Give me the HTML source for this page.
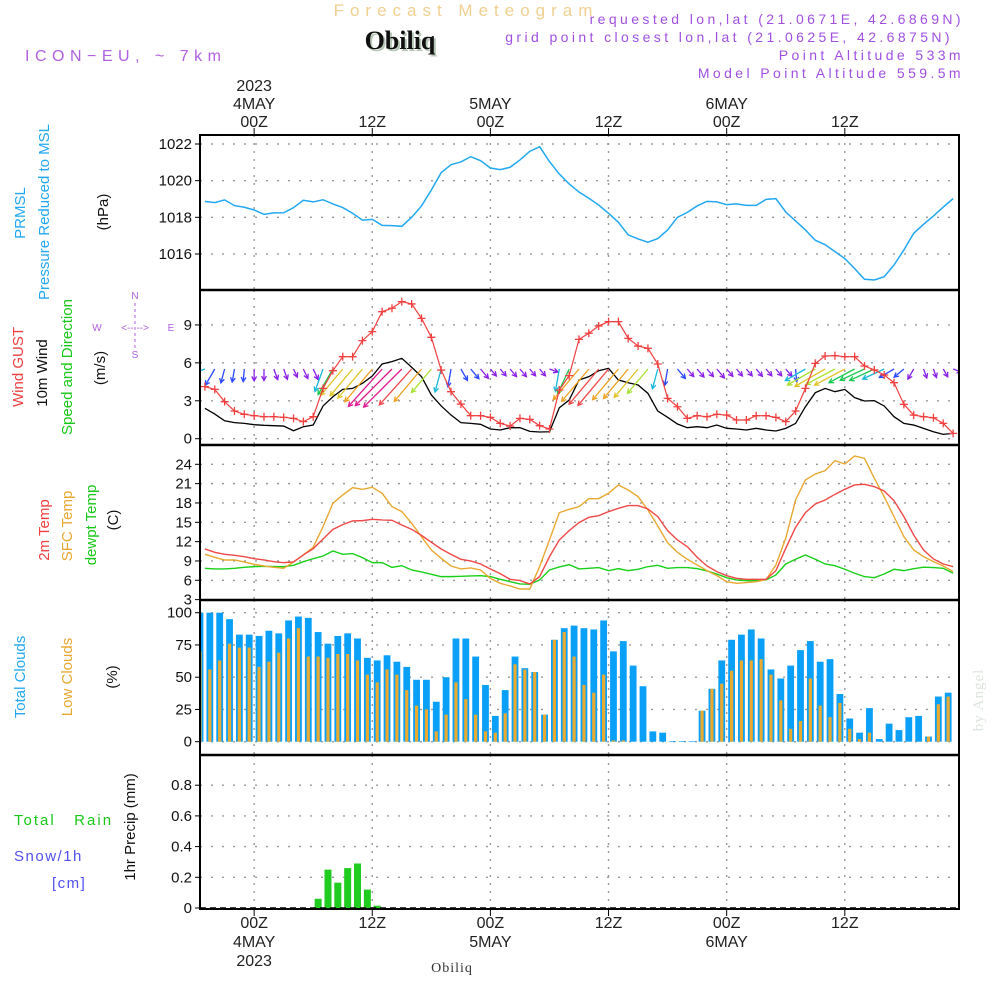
<!DOCTYPE html>
<html><head><meta charset="utf-8"><style>
html,body{margin:0;padding:0;background:#fff;}
svg{display:block;}
text{font-family:"Liberation Sans",sans-serif;}
</style></head><body>
<svg id="chart" width="1000" height="1000" viewBox="0 0 1000 1000" xmlns="http://www.w3.org/2000/svg">
<rect x="0" y="0" width="1000" height="1000" fill="#fff"/>
<g id="header">
<text x="466" y="16" font-size="17" fill="#f0d090" text-anchor="middle" letter-spacing="6">Forecast Meteogram</text>
<text x="402" y="51" font-size="26" font-weight="bold" fill="#b8c8b8" text-anchor="middle" style="font-family:'Liberation Serif',serif">Obiliq</text>
<text x="400" y="49" font-size="26" font-weight="bold" fill="#111" text-anchor="middle" style="font-family:'Liberation Serif',serif">Obiliq</text>
<text x="25" y="61" font-size="16" fill="#b060e0" letter-spacing="5.5">ICON−EU, ~ 7km</text>
<text x="964" y="24" font-size="14" fill="#a050e0" text-anchor="end" letter-spacing="3.4">requested lon,lat (21.0671E, 42.6869N)</text>
<text x="953" y="42" font-size="14" fill="#a050e0" text-anchor="end" letter-spacing="3.4">grid point closest lon,lat (21.0625E, 42.6875N)</text>
<text x="964" y="60" font-size="14" fill="#a050e0" text-anchor="end" letter-spacing="3.4">Point Altitude 533m</text>
<text x="964" y="78" font-size="14" fill="#a050e0" text-anchor="end" letter-spacing="3.4">Model Point Altitude 559.5m</text>
<text x="452" y="972" font-size="14" fill="#333" text-anchor="middle" style="font-family:'Liberation Serif',serif" letter-spacing="1">Obiliq</text>
<text transform="translate(983,700) rotate(-90)" font-size="15" fill="#dde4dd" text-anchor="middle" style="font-family:'Liberation Serif',serif" letter-spacing="1">by Angel</text>
</g>
<g id="labels"></g>
<g id="plot"></g>
</svg>
<script>
// ---------- DATA ----------
const lineHours = [-5,-4,-3,-2,-1,0,1,2,3,4,5,6,7,8,9,10,11,12,13,14,15,16,17,18,19,20,21,22,23,24,25,26,27,28,29,30,31,32,33,34,35,36,37,38,39,40,41,42,43,44,45,46,47,48,49,50,51,52,53,54,55,56,57,58,59,60,61,62,63,64,65,66,67,68,69,70,71];
const pressure = [1018.87,1018.80,1018.95,1018.64,1018.55,1018.40,1018.16,1018.24,1018.25,1018.53,1018.93,1018.84,1018.96,1018.73,1018.53,1018.22,1017.85,1017.89,1017.56,1017.55,1017.51,1018.00,1018.62,1019.49,1020.44,1020.87,1021.02,1021.31,1021.09,1020.69,1020.60,1020.73,1021.13,1021.60,1021.85,1021.04,1020.36,1019.82,1019.38,1019.04,1018.67,1018.22,1017.73,1017.04,1016.82,1016.64,1016.84,1017.31,1018.0,1018.27,1018.62,1018.87,1018.84,1018.69,1018.73,1018.65,1018.65,1018.98,1019.02,1018.29,1017.8,1017.31,1016.75,1016.51,1016.13,1015.75,1015.2,1014.62,1014.58,1014.76,1015.4,1016.22,1017.13,1017.62,1018.07,1018.56,1019.02];
const windGust = [4.12,3.90,2.93,2.19,1.93,1.82,1.74,1.74,1.69,1.61,1.35,1.74,3.98,5.38,6.49,6.49,7.76,8.47,10.05,10.32,10.84,10.66,9.52,8.02,5.43,3.72,2.74,1.82,1.82,1.69,1.21,1.0,1.61,1.53,1.03,0.77,3.85,4.99,7.86,8.34,8.92,9.26,9.26,7.94,7.33,7.15,5.91,3.19,2.53,1.61,1.82,1.74,1.93,1.87,1.48,1.48,1.82,1.82,1.69,1.35,2.19,3.98,5.96,6.54,6.57,6.49,6.49,5.75,5.44,5.04,4.43,2.72,1.87,1.74,1.66,1.21,0.42];
const wind10m = [2.40,1.95,1.42,1.27,1.21,1.11,1.06,1.03,1.0,0.63,0.95,1.08,2.59,3.32,3.90,3.98,4.38,4.96,5.91,6.10,6.36,5.65,4.91,3.46,2.59,1.87,1.27,1.21,1.14,0.77,0.69,0.87,0.87,0.58,0.53,0.55,2.45,3.06,4.64,4.91,5.38,5.57,4.64,4.43,4.25,3.59,2.19,1.69,1.16,0.87,0.95,0.87,1.08,0.82,0.77,0.69,0.82,0.69,0.61,0.82,1.21,2.53,3.64,3.98,3.72,3.90,3.25,2.98,3.01,2.59,1.74,1.21,1.08,0.82,0.55,0.34,0.42];
const windDir = [70,30,15,10,5,0,0,340,340,335,335,335,20,30,40,40,40,40,42,45,45,42,40,40,15,10,330,320,320,320,320,320,320,320,320,290,10,25,40,40,40,40,40,40,40,40,15,10,320,320,320,320,320,320,320,320,320,320,320,320,355,60,60,60,62,62,62,65,65,65,60,50,30,340,340,330,290];
const temp2m = [10.86,10.34,10.03,9.88,9.67,9.36,9.15,8.89,8.74,8.84,9.93,10.91,12.41,13.91,14.64,15.21,15.26,15.46,15.36,15.31,14.58,13.91,12.97,11.89,10.86,10.03,9.26,9.0,8.53,7.76,7.03,6.15,5.95,5.43,6.57,9.67,12.26,13.71,14.95,15.77,16.03,16.65,17.17,17.59,17.59,17.07,15.88,13.71,12.26,11.22,9.57,8.22,7.34,6.72,6.31,6.15,6.15,6.15,7.50,10.96,14.22,16.50,17.84,18.46,19.34,20.12,20.79,20.90,20.53,19.86,18.36,15.88,13.03,10.70,9.31,8.53,8.12];
const tempSfc = [10.03,9.57,9.15,9.15,8.84,8.48,8.22,8.01,7.86,8.84,9.93,11.12,14.33,17.95,19.24,20.38,20.12,20.43,19.50,17.43,16.66,14.84,12.77,10.70,9.41,8.22,7.76,7.91,7.60,6.30,5.53,5.12,4.65,4.65,8.12,12.26,16.50,17.02,17.43,18.67,18.67,19.5,20.79,20.02,18.98,16.91,14.43,11.84,10.34,9.26,8.38,7.50,6.72,5.79,5.53,5.64,5.79,6.10,8.38,12.52,18.46,21.57,22.50,23.02,24.57,24.05,25.29,24.93,21.83,18.98,15.88,12.77,10.70,9.67,8.89,8.22,7.34];
const tempDew = [7.86,7.76,7.76,7.86,8.01,8.12,8.17,8.12,8.12,8.33,8.89,9.36,9.77,10.55,10.03,10.14,9.52,8.74,8.74,8.01,8.27,7.60,7.29,6.93,6.57,6.57,6.62,6.67,6.72,6.57,6.15,5.79,5.43,5.38,6.05,7.60,8.07,8.43,7.76,7.86,7.97,7.50,7.81,7.50,7.71,8.12,8.33,7.86,7.97,7.97,7.81,7.45,6.98,6.41,6.05,5.95,5.95,6.05,6.83,8.53,9.26,9.93,9.26,8.53,8.27,7.71,7.09,6.57,6.41,6.98,7.71,7.50,7.81,8.03,7.97,7.86,7.09];
const barHours = [-5.5,-4.5,-3.5,-2.5,-1.5,-0.5,0.5,1.5,2.5,3.5,4.5,5.5,6.5,7.5,8.5,9.5,10.5,11.5,12.5,13.5,14.5,15.5,16.5,17.5,18.5,19.5,20.5,21.5,22.5,23.5,24.5,25.5,26.5,27.5,28.5,29.5,30.5,31.5,32.5,33.5,34.5,35.5,36.5,37.5,38.5,39.5,40.5,41.5,42.5,43.5,44.5,45.5,46.5,47.5,48.5,49.5,50.5,51.5,52.5,53.5,54.5,55.5,56.5,57.5,58.5,59.5,60.5,61.5,62.5,63.5,64.5,65.5,66.5,67.5,68.5,69.5,70.5];
const totalClouds = [100,100,100,95,83,83,82,86,84,94,97,96,85,76,82,84,80,65,63,67,62,58,48,48,31,50,80,80,66,44,20,40,66,57,54,21,79,88,90,88,87,94,70,78,59,43,8,7,0.5,0.5,0.5,24,41,63,79,83,87,80,56,49,59,71,78,62,64,37,18,7,26,2,14,9,19,20,4,35,38];
const lowClouds = [70,56,63,76,73,73,58,62,69,80,88,66,66,65,68,68,63,52,46,56,52,40,28,25,8,21,46,33,21,8,7,22,60,56,54,21,79,85,66,44,38,52,1,1,0,0,0,0,0,0,0,24,41,45,55,63,63,64,52,32,10,16,49,28,19,30,10,2,7,0,0,0,0,0,4,29,35];
const precip = [0,0,0,0,0,0,0,0,0,0,0,0,0.06,0.25,0.165,0.26,0.29,0.12,0.015,0,0,0,0,0,0,0,0,0,0,0,0,0,0,0,0,0,0,0,0,0,0,0,0,0,0,0,0,0,0,0,0,0,0,0,0,0,0,0,0,0,0,0,0,0,0,0,0,0,0,0,0,0,0,0,0,0,0];
const pressureTicks = [1016,1018,1020,1022];
const windTicks = [0,3,6,9];
const tempTicks = [3,6,9,12,15,18,21,24];
const cloudTicks = [0,25,50,75,100];
const precipTicks = [0,0.2,0.4,0.6,0.8];
const timeTicks = [0,12,24,36,48,60];
const timeLabels = ["00Z","12Z","00Z","12Z","00Z","12Z"];
const dayLabels = ["4MAY","","5MAY","","6MAY",""];

// ---------- SCALES ----------
const X0=200, X1=959, H0=-5.5, H1=71.6;
function xs(h){ return X0 + (h-H0)*(X1-X0)/(H1-H0); }
function yP(p){ return 144 + (1022-p)*18.33; }
function yW(v){ return 438.7 - v*12.64; }
function yT(t){ return 464.3 + (24-t)*6.444; }
function yC(c){ return 741.7 - c*1.29; }
function yR(r){ return 908 - r*153.5; }

const NS="http://www.w3.org/2000/svg";
function mk(tag, attrs, parent){
  const e=document.createElementNS(NS,tag);
  for(const k in attrs) e.setAttribute(k, attrs[k]);
  parent.appendChild(e); return e;
}
const svg=document.getElementById('chart');
const plot=document.getElementById('plot');
const labels=document.getElementById('labels');

const panels=[{top:135,bot:290,ys:yP,ticks:pressureTicks,fmt:v=>String(v),name:'pressure'},
 {top:290,bot:445,ys:yW,ticks:windTicks,fmt:v=>String(v),name:'wind'},
 {top:445,bot:600,ys:yT,ticks:tempTicks,fmt:v=>String(v),name:'temperature'},
 {top:600,bot:755,ys:yC,ticks:cloudTicks,fmt:v=>String(v),name:'clouds'},
 {top:755,bot:909,ys:yR,ticks:precipTicks,fmt:v=>v===0?'0':v.toFixed(1),name:'precip'}];

const defs=mk('defs',{},svg);
panels.forEach((p,i)=>{
  const cp=mk('clipPath',{id:'clip'+i},defs);
  mk('rect',{x:X0,y:p.top,width:X1-X0,height:p.bot-p.top},cp);
});

panels.forEach((p,i)=>{
  const g=mk('g',{},plot);
  
  
  p.ticks.forEach(v=>{
    const y=p.ys(v);
    if(y>p.top+3 && y<p.bot-3) mk('line',{x1:X0,x2:X1,y1:y,y2:y,stroke:'#999','stroke-width':1.4,'stroke-dasharray':'2,9'},g);
    if(y>=p.top-1 && y<=p.bot+1) mk('line',{x1:X0-5,x2:X0,y1:y,y2:y,stroke:'#000','stroke-width':1},g);
    const t=mk('text',{x:X0-8,y:y+5,'font-size':15,'text-anchor':'end',fill:'#111'},g);
    
    
    t.textContent=p.fmt(v);
  });
  timeTicks.forEach(h=>{
    mk('line',{x1:xs(h),x2:xs(h),y1:p.top,y2:p.bot,stroke:'#999','stroke-width':1.4,'stroke-dasharray':'2,6'},g);
  });
});

(function(){
  const g=mk('g',{'clip-path':'url(#clip0)'},plot);
  const pts=lineHours.map((h,i)=>xs(h)+','+yP(pressure[i])).join(' ');
  const l=mk('polyline',{points:pts,fill:'none',stroke:'#22a8f0','stroke-width':1.5},g);
  
  
})();

function speedColor(s){
  if(s<1.15) return '#8a1fe8';
  if(s<2.0) return '#2a48ff';
  if(s<2.7) return '#18b8d8';
  if(s<3.4) return '#18c850';
  if(s<3.9) return '#a8e030';
  if(s<4.4) return '#e0c428';
  if(s<5.0) return '#f0a020';
  if(s<5.8) return '#f04848';
  return '#e01890';
}
(function(){
  const g=mk('g',{'clip-path':'url(#clip1)'},plot);
  const bl=mk('polyline',{points:lineHours.map((h,i)=>xs(h)+','+yW(wind10m[i])).join(' '),fill:'none',stroke:'#000','stroke-width':1.3},g);
  
  
  lineHours.forEach((h,i)=>{
    const s=wind10m[i], d=windDir[i]*Math.PI/180;
    const L=Math.max(9, 8*s+3);
    const x=xs(h), y=369;
    const dx=-Math.sin(d)*L, dy=Math.cos(d)*L;
    const hx=x+dx, hy=y+dy;
    const ang=Math.atan2(dy,dx);
    const c=speedColor(s);
    const a=mk('g',{stroke:c,'stroke-width':1.3,fill:'none'},g);
    
    
    mk('line',{x1:x,y1:y,x2:hx,y2:hy},a);
    const hl=5;
    mk('polyline',{points:(hx-hl*Math.cos(ang-0.5))+','+(hy-hl*Math.sin(ang-0.5))+' '+hx+','+hy+' '+(hx-hl*Math.cos(ang+0.5))+','+(hy-hl*Math.sin(ang+0.5))},a);
  });
  const gl=mk('polyline',{points:lineHours.map((h,i)=>xs(h)+','+yW(windGust[i])).join(' '),fill:'none',stroke:'#f04040','stroke-width':1.2},g);
  
  
  lineHours.forEach((h,i)=>{
    const x=xs(h), y=yW(windGust[i]);
    const m=mk('path',{d:`M${x-4},${y}H${x+4}M${x},${y-4}V${y+4}`,stroke:'#f04040','stroke-width':1.3},g);
    
    
  });
})();

(function(){
  const g=mk('g',{'clip-path':'url(#clip2)'},plot);
  [[tempDew,'#18d018','dewpoint-line'],[tempSfc,'#e8a830','sfc-temp-line'],[temp2m,'#f04848','temp-2m-line']].forEach(([arr,c,n])=>{
    const l=mk('polyline',{points:lineHours.map((h,i)=>xs(h)+','+yT(arr[i])).join(' '),fill:'none',stroke:c,'stroke-width':1.4},g);
    
    
  });
})();

(function(){
  const g=mk('g',{'clip-path':'url(#clip3)'},plot);
  barHours.forEach((h,i)=>{
    const x=xs(h);
    const b=mk('rect',{x:x-3.4,y:yC(totalClouds[i]),width:6.8,height:yC(0)-yC(totalClouds[i]),fill:'#0aa0f8'},g);
    
    
    if(lowClouds[i]>0){
      const o=mk('rect',{x:x-1.6,y:yC(lowClouds[i]),width:3.2,height:yC(0)-yC(lowClouds[i]),fill:'#e8aa30'},g);
      
      
    }
  });
})();

(function(){
  const g=mk('g',{'clip-path':'url(#clip4)'},plot);
  barHours.forEach((h,i)=>{
    if(precip[i]<=0) return;
    const x=xs(h);
    const b=mk('rect',{x:x-3.5,y:yR(precip[i]),width:7,height:yR(0)-yR(precip[i]),fill:'#20cc20'},g);
    
    
  });
  mk('line',{x1:X0,x2:X1,y1:908,y2:908,stroke:'#000','stroke-width':1.5,'stroke-dasharray':'6,4'},g);
})();

(function(){
  const g=mk('g',{fill:'none',stroke:'#000','stroke-width':2},plot);
  
  
  mk('rect',{x:X0,y:135,width:X1-X0,height:909-135},g);
  [290,445,600,755].forEach(y=>mk('line',{x1:X0,x2:X1,y1:y,y2:y,'stroke-width':2.5},g));
  timeTicks.forEach(h=>{
    mk('line',{x1:xs(h),x2:xs(h),y1:128,y2:135,'stroke-width':1},g);
    mk('line',{x1:xs(h),x2:xs(h),y1:909,y2:916,'stroke-width':1},g);
  });
})();

(function(){
  const g=mk('g',{'font-size':16,fill:'#222','text-anchor':'middle'},plot);
  
  
  timeTicks.forEach((h,i)=>{
    const x=xs(h);
    const t1=mk('text',{x:x,y:127},g); t1.textContent=timeLabels[i];
     
    const t2=mk('text',{x:x,y:928},g); t2.textContent=timeLabels[i];
     
    if(dayLabels[i]){
      const d1=mk('text',{x:x,y:109},g); d1.textContent=dayLabels[i];
       
      const d2=mk('text',{x:x,y:947},g); d2.textContent=dayLabels[i];
       
    }
  });
  const y1=mk('text',{x:xs(0),y:91},g); y1.textContent='2023';
   
  const y2=mk('text',{x:xs(0),y:966},g); y2.textContent='2023';
   
})();

const vlabels=[
 ['PRMSL',20,213,'#22a8f0','prmsl-title'],
 ['Pressure Reduced to MSL',44,212,'#22a8f0','pressure-title'],
 ['(hPa)',103,212,'#111','pressure-unit'],
 ['Wind GUST',18,367,'#f04040','gust-title'],
 ['10m Wind',42,373,'#111','wind-title'],
 ['Speed and Direction',67,367,'#18c818','direction-title'],
 ['(m/s)',100,368,'#111','wind-unit'],
 ['2m Temp',44,530,'#f04040','temp-2m-title'],
 ['SFC Temp',67,526,'#e8a830','sfc-temp-title'],
 ['dewpt Temp',91,525,'#18c818','dewpoint-title'],
 ['(C)',113,520,'#111','temp-unit'],
 ['Total Clouds',20,677,'#22a8f0','total-clouds-title'],
 ['Low Clouds',67,677,'#e8a830','low-clouds-title'],
 ['(%)',112,677,'#111','cloud-unit'],
 ['1hr Precip (mm)',130,827,'#111','precip-title']];
vlabels.forEach(([s,x,y,c,n])=>{
  const t=mk('text',{transform:`translate(${x+5},${y}) rotate(-90)`,'font-size':15,fill:c,'text-anchor':'middle'},labels);
  
  
  t.textContent=s;
});
(function(){
  const t1=mk('text',{x:14,y:825,'font-size':15,fill:'#18c818','letter-spacing':2},labels);
   
  t1.textContent='Total   Rain';
  t1.style.whiteSpace='pre';
  const t2=mk('text',{x:14,y:861,'font-size':15,fill:'#5050f0','letter-spacing':1.5},labels);
   
  t2.textContent='Snow/1h';
  const t3=mk('text',{x:52,y:888,'font-size':15,fill:'#5050f0','letter-spacing':1.5},labels);
   
  t3.textContent='[cm]';
  const g=mk('g',{fill:'#b060e0','font-size':10,'text-anchor':'middle'},labels);
   
  [['N',135,299],['W',97,331],['E',171,331],['S',135,358]].forEach(([s,x,y])=>{const t=mk('text',{x:x,y:y},g);t.textContent=s;});
  const t=mk('text',{x:135,y:331,'font-size':10},g); t.textContent='<-- -->';
  mk('line',{x1:135,x2:135,y1:303,y2:350,stroke:'#b060e0','stroke-width':1,'stroke-dasharray':'3,3'},g);
})();
</script>
</body></html>
